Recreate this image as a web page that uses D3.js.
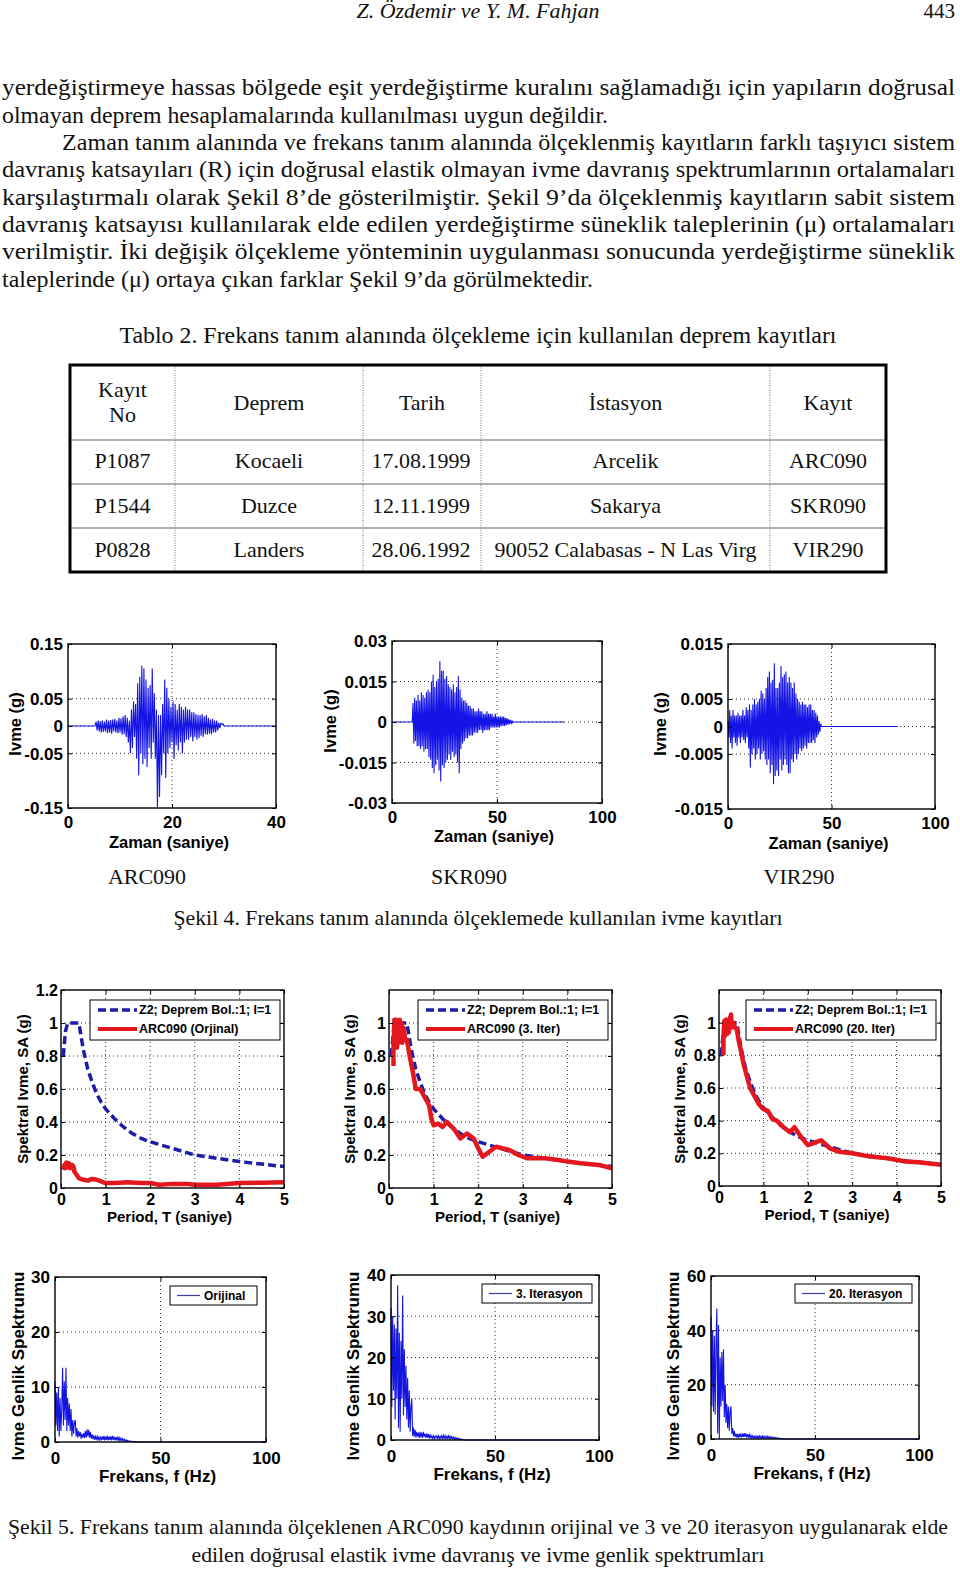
<!DOCTYPE html>
<html><head><meta charset="utf-8">
<script src="https://cdn.jsdelivr.net/npm/d3@7"></script>
<style>body{margin:0;background:#fff}svg{display:block}</style>
</head><body>
<svg id="page" width="960" height="1569"></svg>
<script>
// ---------------- TEXT CONTENT ----------------
const headerAuthors = "Z. Özdemir ve Y. M. Fahjan";
const headerPage = "443";
const bodyLines = [
 "yerdeğiştirmeye hassas bölgede eşit yerdeğiştirme kuralını sağlamadığı için yapıların doğrusal",
 "olmayan deprem hesaplamalarında kullanılması uygun değildir.",
 "Zaman tanım alanında ve frekans tanım alanında ölçeklenmiş kayıtların farklı taşıyıcı sistem",
 "davranış katsayıları (R) için doğrusal elastik olmayan ivme davranış spektrumlarının ortalamaları",
 "karşılaştırmalı olarak Şekil 8’de gösterilmiştir. Şekil 9’da ölçeklenmiş kayıtların sabit sistem",
 "davranış katsayısı kullanılarak elde edilen yerdeğiştirme süneklik taleplerinin (μ) ortalamaları",
 "verilmiştir. İki değişik ölçekleme yönteminin uygulanması sonucunda yerdeğiştirme süneklik",
 "taleplerinde (μ) ortaya çıkan farklar Şekil 9’da görülmektedir."
];
const tableTitle = "Tablo 2. Frekans tanım alanında ölçekleme için kullanılan deprem kayıtları";
const tableHeader = [["Kayıt","No"],["Deprem"],["Tarih"],["İstasyon"],["Kayıt"]];
const tableRows = [
 ["P1087","Kocaeli","17.08.1999","Arcelik","ARC090"],
 ["P1544","Duzce","12.11.1999","Sakarya","SKR090"],
 ["P0828","Landers","28.06.1992","90052 Calabasas - N Las Virg","VIR290"]
];
const recordNames = ["ARC090","SKR090","VIR290"];
const caption4 = "Şekil 4. Frekans tanım alanında ölçeklemede kullanılan ivme kayıtları";
const caption5 = ["Şekil 5. Frekans tanım alanında ölçeklenen ARC090 kaydının orijinal ve 3 ve 20 iterasyon uygulanarak elde",
                  "edilen doğrusal elastik ivme davranış ve ivme genlik spektrumları"];

// ---------------- ACCELERATION RECORDS (g) ----------------
const arcT0 = 5.2, arcDt = 0.2, arcEnd = 40;
const arcAcc = [0,
 0.008,-0.008,0.01,-0.01,0.009,-0.012,0.01,-0.011,0.008,
 -0.01,0.012,-0.013,0.01,-0.012,0.011,-0.014,0.012,-0.01,0.013,
 -0.012,0.01,-0.013,0.015,-0.012,0.014,-0.016,0.018,-0.015,0.02,
 -0.02,0.015,-0.03,0.01,-0.05,
 0.03,-0.04,0.045,-0.02,0.04,
 -0.06,0.078,-0.09,0.09,-0.05,
 0.11,-0.07,0.105,-0.06,0.085,
 -0.075,0.07,-0.04,0.075,-0.06,
 0.105,-0.03,0.06,-0.06,0.03,
 -0.15,0.02,-0.13,0.02,-0.09,
 0.04,-0.05,0.085,-0.095,0.07,
 -0.05,0.05,-0.04,0.035,-0.03,
 0.045,-0.06,0.04,-0.035,0.03,
 -0.045,0.04,-0.03,0.035,-0.05,
 0.03,-0.03,0.035,-0.025,0.03,
 -0.025,0.03,-0.02,0.025,-0.028,
 0.025,-0.02,0.022,-0.025,0.02,
 -0.022,0.02,-0.018,0.022,-0.02,
 0.018,-0.015,0.02,-0.016,0.015,
 -0.014,0.012,-0.015,0.013,-0.012,
 0.01,-0.012,0.01,-0.008,0.006,
 -0.004,0.005,0.003,0.004,0];
const skrT0 = 9.6, skrDt = 0.4, skrEnd = 82;
const skrAcc = [0,
 0.007,-0.008,0.009,-0.007,0.008,-0.009,
 0.01,-0.009,0.008,-0.01,0.011,
 -0.009,0.01,-0.011,0.009,-0.01,
 0.011,-0.01,0.012,-0.013,0.011,
 -0.014,0.015,-0.017,0.0175,-0.019,
 0.013,-0.016,0.015,-0.014,0.016,
 -0.018,0.0225,-0.022,0.019,-0.016,
 0.019,-0.017,0.016,-0.015,0.017,
 -0.014,0.014,-0.012,0.013,-0.014,
 0.012,-0.011,0.014,-0.013,0.011,
 -0.012,0.013,-0.015,0.017,-0.019,
 0.012,-0.01,0.009,-0.008,0.008,
 -0.007,0.008,-0.006,0.007,-0.006,
 0.006,-0.005,0.006,-0.005,0.005,
 -0.005,0.005,-0.004,0.004,-0.004,
 0.004,-0.004,0.005,-0.003,0.004,
 -0.003,0.004,-0.004,0.003,-0.003,
 0.003,-0.003,0.004,-0.003,0.003,
 -0.003,0.003,-0.002,0.003,-0.002,
 0.002,-0.002,0.003,-0.002,0.002,
 -0.002,0.002,-0.002,0.002,-0.0015,
 0.002,-0.0015,0.002,-0.0015,0.0015,
 -0.0012,0.0015,-0.001,0.001,-0.0008,
 0.0008,-0.0005,0.0004,-0.0003,0];
const virT0 = 0, virDt = 0.4, virEnd = 82;
const virAcc = [
 0.001,-0.002,0.003,-0.003,0.002,
 -0.004,0.003,-0.002,0.002,-0.003,
 0.002,-0.0035,0.0025,-0.002,0.002,
 -0.003,0.002,-0.002,0.003,-0.0025,
 0.002,-0.003,0.0035,-0.002,0.003,
 -0.004,0.004,-0.0075,0.003,-0.005,
 0.004,-0.004,0.005,-0.006,0.004,
 -0.005,0.0045,-0.004,0.005,-0.006,
 0.0065,-0.005,0.006,-0.0045,0.005,
 -0.006,0.007,-0.007,0.009,-0.006,
 0.01,-0.0085,0.008,-0.007,0.0085,
 -0.0105,0.0115,-0.009,0.007,-0.008,
 0.007,-0.009,0.008,-0.006,0.011,
 -0.008,0.009,-0.007,0.0095,-0.006,
 0.01,-0.007,0.008,-0.0085,0.009,
 -0.0085,0.008,-0.006,0.007,-0.0065,
 0.008,-0.005,0.006,-0.006,0.005,
 -0.005,0.0045,-0.004,0.004,-0.0045,
 0.0045,-0.004,0.004,-0.0035,0.004,
 -0.004,0.0035,-0.003,0.004,-0.003,
 0.004,-0.003,0.003,-0.0025,0.003,
 -0.003,0.0025,-0.002,0.002,-0.0015,
 0.001,-0.001,0.0005,0];

// ---------------- RESPONSE SPECTRA (T in s, SA in g) ----------------
const designT  = [0.05,0.1,0.15,0.4,0.5,0.6,0.7,0.8,0.9,1.0,1.2,1.4,1.6,1.8,2.0,2.5,3.0,3.5,4.0,4.5,5.0];
const designSA = [0.8,0.95,1.0,1.0,0.84,0.72,0.64,0.57,0.52,0.48,0.42,0.37,0.33,0.3,0.28,0.24,0.2,0.18,0.16,0.145,0.13];
const origT  = [0.05,0.08,0.1,0.12,0.15,0.18,0.2,0.25,0.28,0.3,0.35,0.4,0.5,0.6,0.7,0.8,0.9,1.0,1.2,1.5,1.8,2.0,2.2,2.5,2.8,3.0,3.5,4.0,4.5,5.0];
const origSA = [0.11,0.14,0.12,0.155,0.13,0.15,0.12,0.14,0.13,0.1,0.08,0.06,0.05,0.045,0.055,0.05,0.04,0.03,0.03,0.035,0.03,0.03,0.02,0.025,0.025,0.02,0.02,0.03,0.032,0.035];
const iter3T  = [0.1,0.1,0.12,0.14,0.16,0.18,0.2,0.22,0.24,0.26,0.28,0.3,0.33,0.36,0.4,0.45,0.5,0.55,0.6,0.7,0.8,0.9,0.95,1.0,1.1,1.2,1.3,1.45,1.6,1.75,1.9,2.0,2.1,2.25,2.4,2.7,2.9,3.1,3.5,3.8,4.0,4.3,4.7,5.0];
const iter3SA = [0.74,0.85,1.02,0.86,1.02,0.85,1.0,0.88,1.02,0.9,1.0,0.88,0.97,0.9,0.9,0.82,0.75,0.68,0.6,0.6,0.55,0.5,0.42,0.38,0.39,0.37,0.4,0.36,0.3,0.33,0.3,0.24,0.19,0.22,0.25,0.23,0.2,0.18,0.18,0.17,0.16,0.15,0.14,0.12];
const iter20T  = [0.1,0.1,0.12,0.14,0.16,0.18,0.2,0.22,0.25,0.27,0.29,0.32,0.36,0.4,0.45,0.5,0.55,0.6,0.7,0.8,0.9,1.0,1.1,1.2,1.3,1.45,1.6,1.7,1.85,2.0,2.1,2.2,2.3,2.5,2.7,3.0,3.4,3.8,4.2,4.5,5.0];
const iter20SA = [0.8,0.9,1.01,0.92,1.02,0.93,1.0,0.94,1.03,1.05,0.97,1.0,0.97,0.96,0.88,0.82,0.75,0.7,0.6,0.55,0.5,0.47,0.46,0.41,0.4,0.36,0.33,0.36,0.3,0.25,0.26,0.27,0.28,0.23,0.21,0.2,0.18,0.17,0.15,0.145,0.13];
const specLegend = ["Z2; Deprem Bol.:1; I=1","ARC090 (Orjinal)","ARC090 (3. Iter)","ARC090 (20. Iter)"];

// ---------------- FOURIER AMPLITUDE SPECTRA ----------------
const fDf = 0.4, fEnd = 100;
const ampOrig = [
 11,3,9,2,10, 1,8,2,6,13.5, 3,11,4,13.5,2, 8,3,7,2,6,
 1,4,1.5,3.5,4, 1,2.5,0.8,2,1, 1.8,0.6,1.5,0.8,1.6, 0.7,2,0.8,2.3,1,
 2.2,0.8,1.8,0.6,1.4, 0.5,1.2,0.4,1,0.5, 1,0.3,0.9,0.4,1, 0.3,1,0.4,1.1,0.3,
 1,0.4,1.1,0.3,1, 0.4,1,0.3,1.1,0.4, 1,0.3,0.9,0.3,1, 0.3,0.8,0.2,0.7,0.3,
 0.6,0.2,0.5,0.2,0.4, 0.1,0.3,0.1,0.2,0.1, 0.15,0.05,0.1,0.05,0.1, 0.05,0.05,0.02,0.02,0];
const ampIter3 = [
 32,8,30,12,28, 5,27,10,37.5,3, 26,2,24,10,35, 6,22,8,18,5,
 15,3,12,2,8, 10,1,3,0.8,2.5, 0.6,2,0.8,1.8,0.5, 2,0.6,1.8,0.5,2,
 0.8,1.5,0.5,1.6,0.6, 1.4,0.4,1.2,0.5,1, 0.4,1,0.3,0.9,0.5, 1,0.4,1,0.3,0.9,
 0.4,1,0.3,1.1,0.4, 1,0.3,0.9,0.4,1, 0.3,0.9,0.3,0.8,0.3, 0.7,0.2,0.6,0.2,0.5,
 0.2,0.4,0.1,0.3,0.1, 0.2,0.05,0.1,0.02,0];
const ampIter20 = [
 45,12,40,10,38, 9,35,48,2,42, 0,30,12,32,14, 33,8,20,6,13,
 4,12,3,10,12, 2,4,1,3,0.8, 2,0.6,1.8,0.5,2, 0.7,1.8,0.6,2,0.8,
 2.2,0.7,2,0.6,1.8, 0.5,1.6,0.5,1.4,0.4, 1.2,0.4,1,0.3,1.1, 0.4,1,0.3,1.1,0.4,
 1,0.3,1.1,0.4,1, 0.3,0.9,0.3,1,0.4, 0.9,0.3,0.8,0.3,0.7, 0.2,0.6,0.2,0.5,0.2,
 0.4,0.1,0.3,0.1,0.2, 0.05,0.1,0.02,0.02,0];
const ampLegend = ["Orijinal","3. Iterasyon","20. Iterasyon"];

// ---------------- TICK LABELS ----------------
const thXTicks = [[0,20,40],[0,50,100],[0,50,100]];
const thYTicks = [[0.15,0.05,0,-0.05,-0.15],[0.03,0.015,0,-0.015,-0.03],[0.015,0.005,0,-0.005,-0.015]];
const thYLabels = [["0.15","0.05","0","-0.05","-0.15"],["0.03","0.015","0","-0.015","-0.03"],["0.015","0.005","0","-0.005","-0.015"]];
const saXTicks = [0,1,2,3,4,5];
const saYTicksFirst = [0,0.2,0.4,0.6,0.8,1,1.2];
const saYLabelsFirst = ["0","0.2","0.4","0.6","0.8","1","1.2"];
const saYTicks = [0,0.2,0.4,0.6,0.8,1];
const saYLabels = ["0","0.2","0.4","0.6","0.8","1"];
const fsXTicks = [0,50,100];
const fsYTicks = [[0,10,20,30],[0,10,20,30,40],[0,20,40,60]];

// ================= DRAWING =================
const svg = d3.select("#page");
const SERIF = "'Liberation Serif','Times New Roman',serif";
const SANS = "'Liberation Sans',Arial,sans-serif";
const INK = "#111";

function serif(txt, x, y, o = {}) {
  const t = svg.append("text").attr("x", x).attr("y", y).text(txt)
    .attr("font-family", SERIF).attr("font-size", o.size || 22).attr("fill", INK)
    .attr("text-anchor", o.anchor || "start");
  if (o.italic) t.attr("font-style", "italic");
  if (o.len) t.attr("textLength", o.len).attr("lengthAdjust", "spacingAndGlyphs");
  return t;
}

// header
serif(headerAuthors, 478, 18, {anchor: "middle", italic: true, size: 21, len: 243});
serif(headerPage, 955, 18, {anchor: "end", size: 21});

// body
const bodyX = [2, 2, 62, 2, 2, 2, 2, 2];
const bodyW = [953, 606, 893, 953, 953, 953, 953, 591];
const bodyY = [95, 122.5, 150, 177, 204.5, 232, 259, 286.5];
bodyLines.forEach((l, i) => serif(l, bodyX[i], bodyY[i], {len: bodyW[i], size: 23.5}));

// table
serif(tableTitle, 478, 343, {anchor: "middle", len: 717, size: 23});
const colEdges = [70, 175, 363, 481, 770, 886];
const rowEdges = [365, 440, 484, 528, 572];
const tg = svg.append("g");
rowEdges.slice(1, -1).forEach(yv => tg.append("line").attr("x1", 70).attr("x2", 886).attr("y1", yv).attr("y2", yv)
  .attr("stroke", "#666").attr("stroke-width", 1.2));
colEdges.slice(1, -1).forEach(xv => tg.append("line").attr("x1", xv).attr("x2", xv).attr("y1", 365).attr("y2", 572)
  .attr("stroke", "#777").attr("stroke-width", 1).attr("stroke-dasharray", "1,1.5"));
tg.append("rect").attr("x", 70).attr("y", 365).attr("width", 816).attr("height", 207)
  .attr("fill", "none").attr("stroke", "#000").attr("stroke-width", 3);
const colC = colEdges.slice(0, -1).map((e, i) => (e + colEdges[i + 1]) / 2);
tableHeader.forEach((h, i) => {
  if (h.length === 2) { serif(h[0], colC[i], 397, {anchor: "middle"}); serif(h[1], colC[i], 422, {anchor: "middle"}); }
  else serif(h[0], colC[i], 410, {anchor: "middle"});
});
tableRows.forEach((r, ri) => r.forEach((c, ci) => {
  const o = {anchor: "middle"};
  if (c.length > 20) o.len = 262;
  serif(c, colC[ci] + (ci === 2 ? -1 : 0), 468 + ri * 44.5, o);
}));

// ---------- generic MATLAB-like axes ----------
function axesFrame(cfg) {
  const [x0, x1, y0, y1] = cfg.box;
  const x = d3.scaleLinear().domain(cfg.xDomain).range([x0, x1]);
  const y = d3.scaleLinear().domain(cfg.yDomain).range([y1, y0]);
  const g = svg.append("g");
  g.append("rect").attr("x", x0).attr("y", y0).attr("width", x1 - x0).attr("height", y1 - y0).attr("fill", "#fff");
  const grid = g.append("g").attr("stroke", "#333").attr("stroke-width", 1).attr("stroke-dasharray", "1,3");
  cfg.xGrid.forEach(v => grid.append("line").attr("x1", x(v)).attr("x2", x(v)).attr("y1", y0).attr("y2", y1));
  cfg.yGrid.forEach(v => grid.append("line").attr("x1", x0).attr("x2", x1).attr("y1", y(v)).attr("y2", y(v)));
  return {g, x, y};
}
function axesFinish(cfg, A) {
  const [x0, x1, y0, y1] = cfg.box;
  const {g, x, y} = A;
  const fs = cfg.fontSize;
  const style = s => s.attr("font-family", SANS).attr("font-size", fs).attr("font-weight", "bold");
  const tick = 4;
  const b = g.append("g").attr("transform", `translate(0,${y1})`)
    .call(d3.axisBottom(x).tickValues(cfg.xTicks).tickFormat((d, i) => cfg.xLabels[i]).tickSizeInner(-tick).tickSizeOuter(0));
  const t = g.append("g").attr("transform", `translate(0,${y0})`)
    .call(d3.axisTop(x).tickValues(cfg.xTicks).tickFormat("").tickSizeInner(-tick).tickSizeOuter(0));
  const l = g.append("g").attr("transform", `translate(${x0},0)`)
    .call(d3.axisLeft(y).tickValues(cfg.yTicks).tickFormat((d, i) => cfg.yLabels[i]).tickSizeInner(-tick).tickSizeOuter(0).tickPadding(cfg.yPad));
  const r = g.append("g").attr("transform", `translate(${x1},0)`)
    .call(d3.axisRight(y).tickValues(cfg.yTicks).tickFormat("").tickSizeInner(-tick).tickSizeOuter(0));
  [b, t, l, r].forEach(a => { a.select(".domain").remove(); style(a); a.selectAll("line").attr("stroke", "#000"); a.selectAll("text").attr("fill", "#000"); });
  b.selectAll("text").attr("y", cfg.xPad).attr("dy", "0.35em");
  l.selectAll("text").attr("dy", "0.35em");
  g.append("rect").attr("x", x0).attr("y", y0).attr("width", x1 - x0).attr("height", y1 - y0)
    .attr("fill", "none").attr("stroke", "#000").attr("stroke-width", 1.4);
  style(g.append("text")).attr("x", (x0 + x1) / 2 - 3).attr("y", y1 + cfg.xLabelOff).attr("dy", "0.35em")
    .attr("text-anchor", "middle").attr("fill", "#000").attr("font-size", cfg.labelSize).text(cfg.xTitle);
  style(g.append("text")).attr("transform", `translate(${cfg.yTitlePos[0]},${cfg.yTitlePos[1]}) rotate(-90)`)
    .attr("dy", "0.35em").attr("text-anchor", "middle").attr("fill", "#000").attr("font-size", cfg.labelSize).text(cfg.yTitle);
}

// ---------- Row 1: acceleration records ----------
function sampled(t0, dt, vals) { return vals.map((v, i) => [t0 + i * dt, v]); }
const records = [
  {pts: [[0, 0]].concat(sampled(arcT0, arcDt, arcAcc), [[arcEnd, 0]]), xDomain: [0, 40], yDomain: [-0.15, 0.15],
   box: [68, 276, 644, 808], yTitlePos: [15, 724], xOff: 34},
  {pts: [[0, 0]].concat(sampled(skrT0, skrDt, skrAcc), [[skrEnd, 0]]), xDomain: [0, 100], yDomain: [-0.03, 0.03],
   box: [392, 602, 641, 803], yTitlePos: [330, 721], xOff: 33},
  {pts: sampled(virT0, virDt, virAcc).concat([[virEnd, 0]]), xDomain: [0, 100], yDomain: [-0.015, 0.015],
   box: [728, 935, 644, 809], yTitlePos: [660, 724], xOff: 34}
];
records.forEach((rc, k) => {
  const cfg = {box: rc.box, xDomain: rc.xDomain, yDomain: rc.yDomain,
    xTicks: thXTicks[k], xLabels: thXTicks[k].map(String), yTicks: thYTicks[k], yLabels: thYLabels[k],
    xGrid: [thXTicks[k][1]], yGrid: [thYTicks[k][1], 0, thYTicks[k][3]],
    fontSize: 17, labelSize: 16.5, yPad: 5, xPad: 14, xLabelOff: rc.xOff,
    xTitle: "Zaman (saniye)", yTitle: "Ivme (g)", yTitlePos: rc.yTitlePos};
  const A = axesFrame(cfg);
  A.g.append("path").datum(rc.pts)
    .attr("d", d3.line().x(d => A.x(d[0])).y(d => A.y(d[1])))
    .attr("fill", "none").attr("stroke", "#1414e6").attr("stroke-width", 1.1);
  axesFinish(cfg, A);
  serif(recordNames[k], [147, 469, 799][k], 884, {anchor: "middle"});
});
serif(caption4, 478, 925, {anchor: "middle", len: 609});

// ---------- Row 2: response spectra ----------
const specSets = [
  {T: origT, SA: origSA, box: [61, 284, 990, 1188], yt: saYTicksFirst, yl: saYLabelsFirst, yTitlePos: [23, 1089], leg: [90, 1000], name: specLegend[1]},
  {T: iter3T, SA: iter3SA, box: [389, 612, 990, 1188], yt: saYTicks, yl: saYLabels, yTitlePos: [350, 1089], leg: [418, 1000], name: specLegend[2]},
  {T: iter20T, SA: iter20SA, box: [719, 941, 990, 1186], yt: saYTicks, yl: saYLabels, yTitlePos: [680, 1089], leg: [746, 1000], name: specLegend[3]}
];
specSets.forEach(s => {
  const cfg = {box: s.box, xDomain: [0, 5], yDomain: [0, 1.2],
    xTicks: saXTicks, xLabels: saXTicks.map(String), yTicks: s.yt, yLabels: s.yl,
    xGrid: [1, 2, 3, 4], yGrid: [0.2, 0.4, 0.6, 0.8, 1],
    fontSize: 16, labelSize: 15, yPad: 3, xPad: 11, xLabelOff: 29,
    xTitle: "Period, T (saniye)", yTitle: "Spektral Ivme, SA (g)", yTitlePos: s.yTitlePos};
  const A = axesFrame(cfg);
  const line = d3.line().x(d => A.x(d[0])).y(d => A.y(d[1]));
  const design = designT.map((t, i) => [t, designSA[i]]);
  const rec = s.T.map((t, i) => [t, s.SA[i]]);
  A.g.append("path").datum(design).attr("d", line).attr("fill", "none")
    .attr("stroke", "#1c1ca8").attr("stroke-width", 3.5).attr("stroke-dasharray", "8,4");
  A.g.append("path").datum(rec).attr("d", line).attr("fill", "none")
    .attr("stroke", "#e3171d").attr("stroke-width", 4.5).attr("stroke-linejoin", "round");
  // legend
  const [lx, ly] = s.leg;
  const lg = A.g.append("g");
  lg.append("rect").attr("x", lx).attr("y", ly).attr("width", 190).attr("height", 40)
    .attr("fill", "#fff").attr("stroke", "#000").attr("stroke-width", 1);
  lg.append("line").attr("x1", lx + 8).attr("x2", lx + 47).attr("y1", ly + 10).attr("y2", ly + 10)
    .attr("stroke", "#1c1ca8").attr("stroke-width", 3.5).attr("stroke-dasharray", "8,4");
  lg.append("line").attr("x1", lx + 8).attr("x2", lx + 47).attr("y1", ly + 29).attr("y2", ly + 29)
    .attr("stroke", "#e3171d").attr("stroke-width", 4);
  [specLegend[0], s.name].forEach((tx, i) => lg.append("text").attr("x", lx + 49).attr("y", ly + 10 + i * 19).attr("dy", "0.35em")
    .attr("font-family", SANS).attr("font-weight", "bold").attr("font-size", 12.5).attr("fill", "#000").text(tx));
  axesFinish(cfg, A);
});

// ---------- Row 3: Fourier amplitude spectra ----------
const ampSets = [
  {vals: ampOrig, box: [55, 266, 1277, 1442], yMax: 30, yt: fsYTicks[0], yTitlePos: [18, 1366], leg: [170, 1286, 87], name: ampLegend[0]},
  {vals: ampIter3, box: [391, 599, 1275, 1440], yMax: 40, yt: fsYTicks[1], yTitlePos: [353, 1366], leg: [482, 1284, 110], name: ampLegend[1]},
  {vals: ampIter20, box: [711, 919, 1276, 1439], yMax: 60, yt: fsYTicks[2], yTitlePos: [673, 1366], leg: [795, 1284, 117], name: ampLegend[2]}
];
ampSets.forEach(s => {
  const cfg = {box: s.box, xDomain: [0, 100], yDomain: [0, s.yMax],
    xTicks: fsXTicks, xLabels: fsXTicks.map(String), yTicks: s.yt, yLabels: s.yt.map(String),
    xGrid: [50], yGrid: s.yt.slice(1, -1),
    fontSize: 17, labelSize: 17, yPad: 5, xPad: 16, xLabelOff: 34,
    xTitle: "Frekans, f (Hz)", yTitle: "Ivme Genlik Spektrumu", yTitlePos: s.yTitlePos};
  const A = axesFrame(cfg);
  const pts = s.vals.map((v, i) => [i * fDf, v]).concat([[fEnd, 0]]);
  A.g.append("path").datum(pts).attr("d", d3.line().x(d => A.x(d[0])).y(d => A.y(d[1])))
    .attr("fill", "none").attr("stroke", "#1414e0").attr("stroke-width", 1.1);
  const [lx, ly, lw] = s.leg;
  const lg = A.g.append("g");
  lg.append("rect").attr("x", lx).attr("y", ly).attr("width", lw).attr("height", 19)
    .attr("fill", "#fff").attr("stroke", "#000").attr("stroke-width", 1);
  lg.append("line").attr("x1", lx + 7).attr("x2", lx + 30).attr("y1", ly + 9.5).attr("y2", ly + 9.5)
    .attr("stroke", "#3a3aa8").attr("stroke-width", 1.2);
  lg.append("text").attr("x", lx + 34).attr("y", ly + 9.5).attr("dy", "0.35em")
    .attr("font-family", SANS).attr("font-weight", "bold").attr("font-size", 12).attr("fill", "#000").text(s.name);
  axesFinish(cfg, A);
});
serif(caption5[0], 478, 1534, {anchor: "middle", len: 940});
serif(caption5[1], 478, 1562, {anchor: "middle", len: 573});
</script>
</body></html>
